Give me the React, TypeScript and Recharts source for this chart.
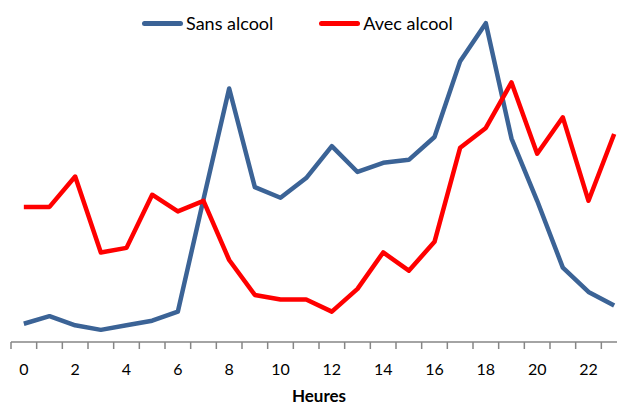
import React from 'react';
import { LineChart, Line, XAxis, YAxis, Legend } from 'recharts';

// share of accidents by hour of day (%)
const hours = ['0', '1', '2', '3', '4', '5', '6', '7', '8', '9', '10', '11', '12', '13', '14', '15', '16', '17', '18', '19', '20', '21', '22', '23'];
const sansAlcool = [0.6, 0.85, 0.55, 0.4, 0.55, 0.7, 1.0, 4.7, 8.35, 5.1, 4.75, 5.4, 6.45, 5.6, 5.9, 6.0, 6.75, 9.25, 10.5, 6.7, 4.65, 2.45, 1.65, 1.2];
const avecAlcool = [4.45, 4.45, 5.45, 2.95, 3.1, 4.85, 4.3, 4.65, 2.7, 1.55, 1.4, 1.4, 1.0, 1.75, 2.95, 2.35, 3.3, 6.4, 7.05, 8.55, 6.2, 7.4, 4.65, 6.85];

const data = hours.map((h, i) => ({ h, sans: sansAlcool[i], avec: avecAlcool[i] }));

const BLUE = '#3B6396';
const RED = '#FF0000';
const FONT = 'Lato, "Open Sans", sans-serif';
const BAND = 616 / 24;

function HourTick(props: any) {
  const { x, y, payload, index } = props;
  const axisY = y - 8;
  return (
    <g>
      <line x1={x - BAND / 2} x2={x - BAND / 2} y1={axisY} y2={axisY + 7} stroke="#868686" strokeWidth={1.5} />
      {index % 2 === 0 && (
        <text x={x} y={axisY + 33} textAnchor="middle" fontSize={16} fill="#000" fontFamily={FONT}>
          {payload.value}
        </text>
      )}
    </g>
  );
}

function LegendBox() {
  const item = (color: string, label: string) => (
    <div style={{ display: 'flex', alignItems: 'center' }}>
      <div style={{ width: 41, height: 5, borderRadius: 3, background: color, marginRight: 3 }} />
      <span style={{ fontSize: 18, color: '#000', fontFamily: FONT }}>{label}</span>
    </div>
  );
  return (
    <div style={{ display: 'flex', gap: 46, paddingLeft: 142 }}>
      {item(BLUE, 'Sans alcool')}
      {item(RED, 'Avec alcool')}
    </div>
  );
}

export default function App() {
  return (
    <div style={{ position: 'absolute', left: 0, top: 0, width: 617, height: 405, overflow: 'hidden', background: '#fff' }}>
      <LineChart width={627} height={405} data={data} margin={{ top: 8, right: 0, left: 11, bottom: 0 }}>
        <XAxis
          dataKey="h"
          interval={0}
          height={63}
          padding={{ left: BAND / 2, right: BAND / 2 }}
          tickLine={false}
          axisLine={{ stroke: '#868686', strokeWidth: 1.5 }}
          tick={<HourTick />}
          label={{ value: 'Heures', position: 'insideBottom', offset: 3, fontSize: 17, fontWeight: 'bold', fill: '#000', fontFamily: FONT }}
        />
        <YAxis hide domain={[0, 11]} />
        <Legend
          verticalAlign="middle"
          content={<LegendBox />}
          wrapperStyle={{ top: 12, left: 0, width: 617 }}
        />
        <Line dataKey="sans" stroke={BLUE} strokeWidth={4.5} dot={false} isAnimationActive={false} strokeLinejoin="round" />
        <Line dataKey="avec" stroke={RED} strokeWidth={4.5} dot={false} isAnimationActive={false} strokeLinejoin="round" />
      </LineChart>
    </div>
  );
}
